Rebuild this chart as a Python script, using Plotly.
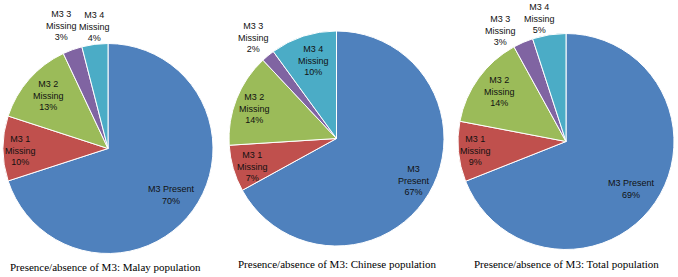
import math
import plotly.graph_objects as go

W, H = 678, 277

categories = ["M3 Present", "M3 1 Missing", "M3 2 Missing", "M3 3 Missing", "M3 4 Missing"]
malay_values = [70, 10, 13, 3, 4]
chinese_values = [67, 7, 14, 2, 10]
total_values = [69, 9, 14, 3, 5]
titles = ["Presence/absence of M3: Malay population",
          "Presence/absence of M3: Chinese population",
          "Presence/absence of M3: Total population"]
colors = ["#4F81BD", "#C0504D", "#9BBB59", "#8064A2", "#4BACC6"]

# label text lines per pie
malay_text = ["M3 Present", "M3 1<br>Missing", "M3 2<br>Missing", "M3 3<br>Missing", "M3 4<br>Missing"]
chinese_text = ["M3<br>Present", "M3 1<br>Missing", "M3 2<br>Missing", "M3 3<br>Missing", "M3 4<br>Missing"]
total_text = malay_text

# layout (pixel centres and radii), label radial factors and angle tweaks (deg)
pies = [
    dict(vals=malay_values, txt=malay_text, cx=108, cy=148.5, r=105, ty=267, tx=105,
         rf=[0.75, 0.83, 0.76, 1.25, 1.17], da=[0, -1, 0, -0.8, 0.7]),
    dict(vals=chinese_values, txt=chinese_text, cx=336.5, cy=138.5, r=107.5, ty=264, tx=337,
         rf=[0.82, 0.82, 0.81, 1.22, 0.76], da=[-1.9, -2, -1.7, 0.2, 1.3]),
    dict(vals=total_values, txt=total_text, cx=566, cy=141.5, r=108, ty=264, tx=566,
         rf=[0.75, 0.84, 0.77, 1.19, 1.17], da=[1.3, 0, 0.7, -7, -3.3]),
]

fig = go.Figure()
annotations = []
for p in pies:
    cx, cy, r = p["cx"], p["cy"], p["r"]
    fig.add_trace(go.Pie(
        labels=categories, values=p["vals"], sort=False, direction="clockwise",
        rotation=0, textinfo="none", hoverinfo="label+percent",
        marker=dict(colors=colors, line=dict(color="white", width=1)),
        domain=dict(x=[(cx - r) / W, (cx + r) / W], y=[1 - (cy + r) / H, 1 - (cy - r) / H]),
        showlegend=False,
    ))
    tot = sum(p["vals"])
    cum = 0
    for i, v in enumerate(p["vals"]):
        mid = (cum + v / 2) / tot * 360 + p["da"][i]
        cum += v
        a = math.radians(mid)
        px = cx + p["rf"][i] * r * math.sin(a)
        py = cy - p["rf"][i] * r * math.cos(a)
        pct = round(v / tot * 100)
        annotations.append(dict(
            x=px / W, y=1 - py / H, xref="paper", yref="paper", showarrow=False,
            xanchor="center", yanchor="middle",
            text=f"{p['txt'][i]}<br>{pct}%", align="center",
            font=dict(family="Liberation Sans Narrow, Liberation Sans, Arial", size=9, color="#111111"),
        ))

# titles
for p, t in zip(pies, titles):
    annotations.append(dict(
        x=p["tx"] / W, y=1 - p["ty"] / H, xref="paper", yref="paper", showarrow=False,
        xanchor="center", yanchor="middle",
        text=t, font=dict(family="Liberation Serif, Times New Roman", size=11, color="black"),
    ))

fig.update_layout(
    width=W, height=H, margin=dict(l=0, r=0, t=0, b=0),
    paper_bgcolor="white", plot_bgcolor="white",
    annotations=annotations,
)
fig.write_html("out.html", config={"displayModeBar": False},
               post_script="document.body.style.margin='0';")
